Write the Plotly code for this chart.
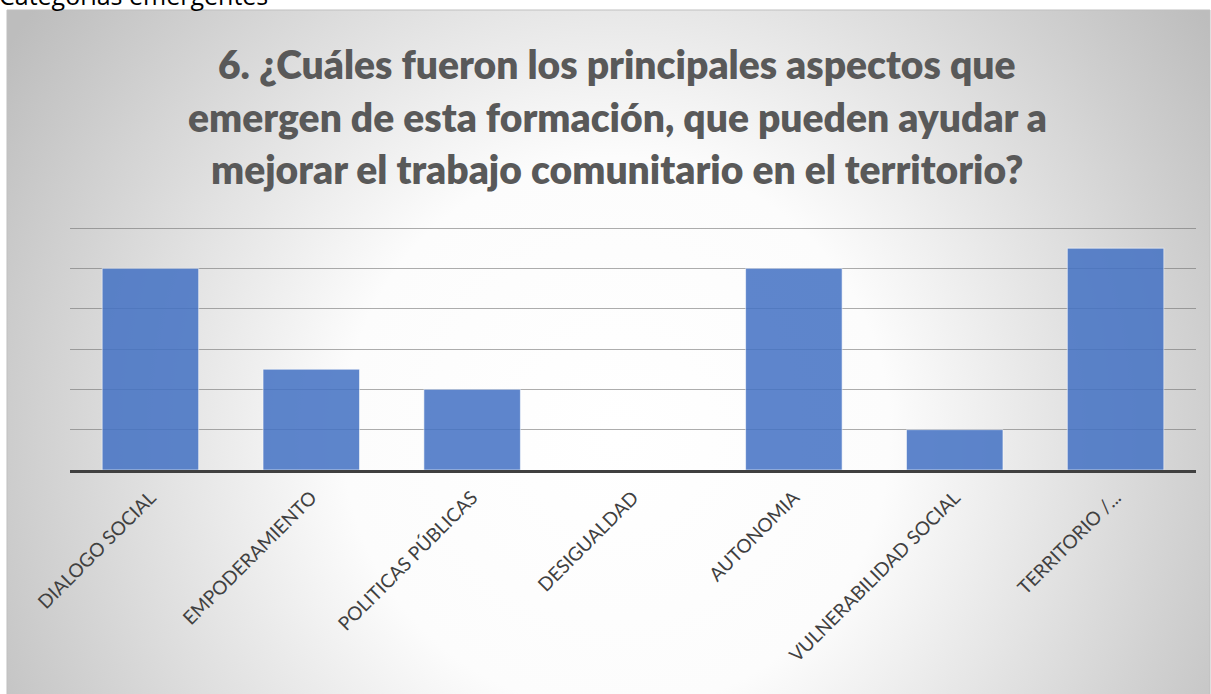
import base64
import plotly.graph_objects as go

categories = ["DIALOGO SOCIAL", "EMPODERAMIENTO", "POLITICAS PÚBLICAS", "DESIGUALDAD",
              "AUTONOMIA", "VULNERABILIDAD SOCIAL", "TERRITORIO /..."]
values = [5, 2.5, 2, 0, 5, 1, 5.5]
title_lines = ["6. ¿Cuáles fueron los principales aspectos que",
               "emergen de esta formación, que pueden ayudar a",
               "mejorar el trabajo comunitario en el territorio?"]
caption = "Categorías emergentes"

W, H = 1211, 694
L, R, T, B = 70, 15, 224, 224
PW, PH = W - L - R, H - T - B


def px_x(px):
    return (px - L) / PW


def px_y(py):
    return (H - B - py) / PH


svg = """<svg xmlns='http://www.w3.org/2000/svg' width='1204' height='684' viewBox='0 0 1204 684' preserveAspectRatio='none'>
<defs><radialGradient id='g' gradientUnits='userSpaceOnUse' cx='610' cy='420' r='720'>
<stop offset='0' stop-color='#ffffff'/><stop offset='0.38' stop-color='#fcfcfc'/>
<stop offset='1' stop-color='#bdbdbd'/></radialGradient></defs>
<rect x='0' y='0' width='1204' height='684' fill='url(#g)'/></svg>"""
src = "data:image/svg+xml;base64," + base64.b64encode(svg.encode()).decode()

fig = go.Figure()
fig.add_trace(go.Bar(
    x=categories, y=values,
    marker=dict(color="#4472C4", opacity=0.86,
                line=dict(color="rgba(255,255,255,0.6)", width=1)),
    width=0.6,
))

box_x0, box_y0 = 7, 10
box_x1, box_y1 = 1210, 700
fig.add_layout_image(dict(
    source=src, xref="paper", yref="paper",
    x=px_x(box_x0), y=px_y(box_y0),
    sizex=(box_x1 - box_x0) / PW, sizey=(box_y1 - box_y0) / PH,
    xanchor="left", yanchor="top", sizing="stretch", layer="below",
))
fig.add_shape(type="rect", xref="paper", yref="paper",
              x0=px_x(box_x0), x1=px_x(box_x1), y0=px_y(box_y1), y1=px_y(box_y0),
              line=dict(color="#bfbfbf", width=1), fillcolor="rgba(0,0,0,0)", layer="below")

line_y = [64, 117, 169]
for txt, yy in zip(title_lines, line_y):
    fig.add_annotation(text=txt, xref="paper", yref="paper", x=px_x(617), y=px_y(yy),
                       xanchor="center", yanchor="middle", showarrow=False,
                       font=dict(family="Lato", size=39, color="#595959", weight=800))

fig.add_annotation(text=caption, xref="paper", yref="paper", x=px_x(-3), y=px_y(-5),
                   xanchor="left", yanchor="middle", showarrow=False,
                   font=dict(family="Open Sans", size=25, color="#000000"))

fig.update_layout(
    width=W, height=H,
    margin=dict(l=L, r=R, t=T, b=B),
    paper_bgcolor="white", plot_bgcolor="rgba(0,0,0,0)",
    showlegend=False, bargap=0.4,
    font=dict(family="Lato", color="#404040"),
)
fig.update_xaxes(tickangle=-45, tickfont=dict(family="Lato", size=19, color="#404040"),
                 showline=True, linecolor="#404040", linewidth=3, showgrid=False,
                 ticks="", ticklen=0, ticklabelstandoff=6)
fig.update_yaxes(range=[0, 6.1], tickvals=[1, 2, 3, 4, 5, 6], showticklabels=False,
                 showgrid=True, gridcolor="rgba(105,105,105,0.55)", gridwidth=1.3,
                 zeroline=False, showline=False)

fig.write_html("out.html", config={"displayModeBar": False},
               post_script="document.body.style.margin='0';")
